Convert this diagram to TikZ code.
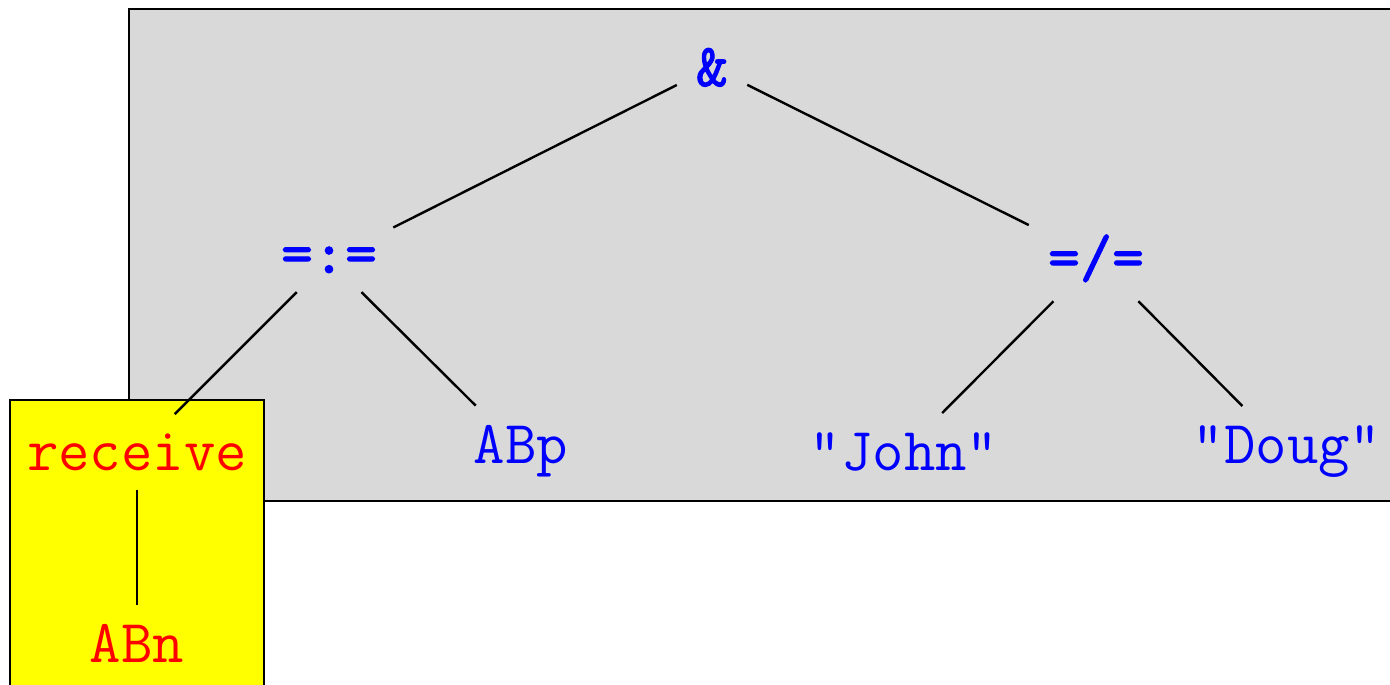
\documentclass[tikz,border=0pt]{standalone}
\usepackage{fontspec}
\newfontfamily\opfont{lmmono10-regular.otf}[FakeBold=1.6]
\definecolor{termblue}{RGB}{0,0,255}
\definecolor{termred}{RGB}{255,0,0}
\definecolor{hlyellow}{RGB}{255,255,0}
\definecolor{panelgray}{RGB}{217,217,217}
\tikzset{
  term/.style={font=\fontsize{61}{73}\selectfont\ttfamily, text=termblue,
    anchor=base, inner sep=19pt},
  opnode/.style={term, font=\fontsize{61}{73}\selectfont\opfont},
  recvnode/.style={term, text=termred},
  branch/.style={draw=black, line width=2.4pt},
  panel/.style={draw=black, line width=1.2pt}
}
\begin{document}
\begin{tikzpicture}[x=1pt, y=-1pt]
  \useasboundingbox (0,0) rectangle (1390,685);
  % background panels
  \filldraw[panel, fill=panelgray] (129,9) rectangle (1395,501);
  \filldraw[panel, fill=hlyellow] (10,400) rectangle (264,690);

  % tree nodes
  \node[opnode] (and) at (712,86) {\&};
  \node[opnode] (assign) at (329,273) {=:=};
  \node[opnode] (neq) at (1096,277) {=/=};
  \node[recvnode] (recv) at (137,470) {receive};
  \node[recvnode] (abn) at (137,662) {ABn};
  \node[term] (abp) at (521,463) {ABp};
  \node[term] (john) at (904,470) {"John"};
  \node[term] (doug) at (1287,463) {"Doug"};

  % branches
  \draw[branch] (and) -- (assign);
  \draw[branch] (and) -- (neq);
  \draw[branch] (assign) -- (recv);
  \draw[branch] (assign) -- (abp);
  \draw[branch] (neq) -- (john);
  \draw[branch] (neq) -- (doug);
  \draw[branch] (recv) -- (abn);
\end{tikzpicture}
\end{document}
